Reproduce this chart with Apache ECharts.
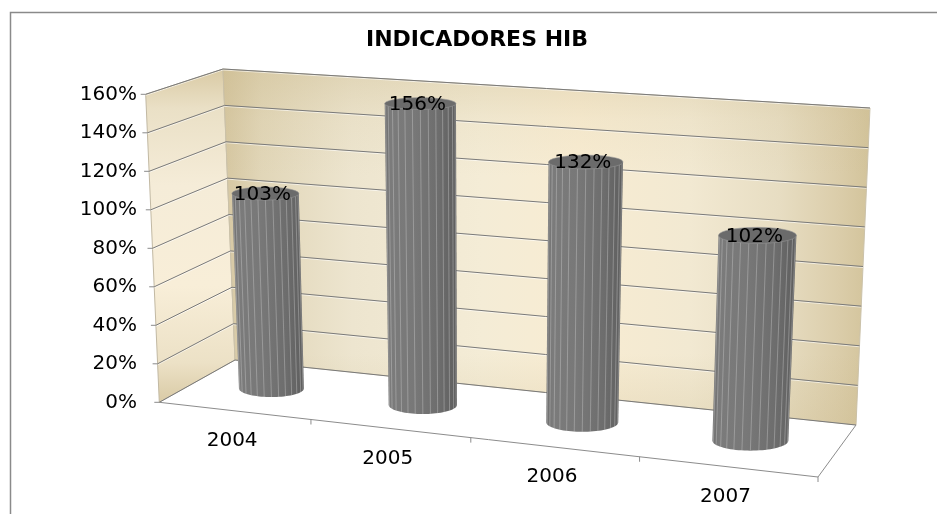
<!DOCTYPE html>
<html>
<head>
<meta charset="utf-8">
<script src="https://cdn.jsdelivr.net/npm/echarts@6/dist/echarts.min.js"></script>
<style>
html,body{margin:0;padding:0;background:#ffffff;}
#c{width:937px;height:514px;}
</style>
</head>
<body>
<div id="c"></div>
<script>
// ---- data ----
const categories = ['2004', '2005', '2006', '2007'];
const values = [103, 156, 132, 102];
const yTicks = [0, 20, 40, 60, 80, 100, 120, 140, 160];
const titleText = 'INDICADORES HIB';

// ---- layout of the pseudo-3D box (screen px), corners: front-left, front-right, back-right, back-left ----
const FLOOR = [[159.3, 402.3], [818, 477], [856, 425], [235, 360]];
const TOP = [[145.7, 94.3], [833, 144], [870, 108], [223, 69]];
const BAR_FRACTION = 0.44;   // cylinder diameter / category width
const BAR_DEPTH = 0.5;       // depth position of cylinders (0 front, 1 back)
const BAR_DIAM_D = 0.4;      // cylinder diameter in depth units
const FONT = '"DejaVu Sans", sans-serif';

function homog(q) {
  const x0 = q[0][0], y0 = q[0][1], x1 = q[1][0], y1 = q[1][1];
  const x2 = q[2][0], y2 = q[2][1], x3 = q[3][0], y3 = q[3][1];
  const dx1 = x1 - x2, dx2 = x3 - x2, dx3 = x0 - x1 + x2 - x3;
  const dy1 = y1 - y2, dy2 = y3 - y2, dy3 = y0 - y1 + y2 - y3;
  const den = dx1 * dy2 - dy1 * dx2;
  const g = (dx3 * dy2 - dy3 * dx2) / den, h = (dx1 * dy3 - dy1 * dx3) / den;
  const a = x1 - x0 + g * x1, b = x3 - x0 + h * x3, c = x0;
  const d = y1 - y0 + g * y1, e = y3 - y0 + h * y3, f = y0;
  return function (u, v) {
    const w = g * u + h * v + 1;
    return [(a * u + b * v + c) / w, (d * u + e * v + f) / w];
  };
}
const Hf = homog(FLOOR);
const VEC = TOP.map(function (p, k) { return [p[0] - FLOOR[k][0], p[1] - FLOOR[k][1]]; });
function vert(u, d) {
  const r = [];
  for (let j = 0; j < 2; j++) {
    const f = VEC[0][j] + (VEC[1][j] - VEC[0][j]) * u;
    const b = VEC[3][j] + (VEC[2][j] - VEC[3][j]) * u;
    r.push(f + (b - f) * d);
  }
  return r;
}
function proj(u, t, d) {
  const p = Hf(u, d), v = vert(u, d);
  return [p[0] + v[0] * t, p[1] + v[1] * t];
}
function uOf(cs, x) { return (x - cs.x) / cs.width; }
function tOf(cs, y) { return (cs.y + cs.height - y) / cs.height; }

const LG = echarts.graphic.LinearGradient;

function renderWalls(params, api) {
  const cs = params.coordSys;
  const t0 = tOf(cs, api.coord([0, yTicks[0]])[1]);
  const t1 = tOf(cs, api.coord([0, yTicks[yTicks.length - 1]])[1]);
  const side = [proj(0, t0, 0), proj(0, t1, 0), proj(0, t1, 1), proj(0, t0, 1)];
  const back = [proj(0, t0, 1), proj(0, t1, 1), proj(1, t1, 1), proj(1, t0, 1)];
  return {
    type: 'group',
    children: [
      { type: 'polygon', shape: { points: side },
        style: { fill: new LG(0, 0, 0, 1, [
          { offset: 0, color: '#d9caa4' }, { offset: 0.12, color: '#eae0c6' },
          { offset: 0.35, color: '#f5ecd8' }, { offset: 0.65, color: '#f8eed8' },
          { offset: 0.88, color: '#ece1c6' }, { offset: 1, color: '#d9caa5' }]),
          stroke: '#c2b9a3', lineWidth: 1 } },
      { type: 'polygon', shape: { points: back },
        style: { fill: new LG(0, 0, 1, 0, [
          { offset: 0, color: '#d5c6a0' }, { offset: 0.06, color: '#e1d6b8' },
          { offset: 0.2, color: '#ede5cf' }, { offset: 0.4, color: '#f4ecd6' },
          { offset: 0.55, color: '#f8ecd2' }, { offset: 0.72, color: '#f2e9d2' },
          { offset: 0.86, color: '#e7ddc2' }, { offset: 0.95, color: '#dbcdaa' },
          { offset: 1, color: '#d2c39a' }]),
          stroke: '#cbc2aa', lineWidth: 1 } },
      { type: 'polygon', shape: { points: back },
        style: { fill: new LG(0, 0, 0, 1, [
          { offset: 0, color: 'rgba(200,182,135,0.35)' }, { offset: 0.14, color: 'rgba(200,182,135,0.1)' },
          { offset: 0.3, color: 'rgba(200,182,135,0)' }, { offset: 0.8, color: 'rgba(200,182,135,0)' },
          { offset: 1, color: 'rgba(200,182,135,0.25)' }]) } }
    ]
  };
}

function renderGrid(params, api) {
  const cs = params.coordSys;
  const t = tOf(cs, api.coord([0, api.value(1)])[1]);
  const a = proj(0, t, 0), b = proj(0, t, 1), c = proj(1, t, 1);
  return {
    type: 'group',
    children: [
      { type: 'polyline', shape: { points: [[a[0], a[1] + 1], [b[0], b[1] + 1], [c[0], c[1] + 1]] },
        style: { stroke: 'rgba(255,255,255,0.6)', lineWidth: 1, fill: null } },
      { type: 'polyline', shape: { points: [a, b, c] },
        style: { stroke: '#7a7a7a', lineWidth: 1, fill: null } },
      { type: 'line', shape: { x1: a[0] - 5, y1: a[1], x2: a[0], y2: a[1] },
        style: { stroke: '#8a8a8a', lineWidth: 1 } }
    ]
  };
}

function renderFloor(params, api) {
  const cs = params.coordSys;
  const i = params.dataIndex;
  const c = api.coord([api.value(0), 0]);
  const half = api.size([1, 0])[0] / 2 / cs.width;
  const uc = uOf(cs, c[0]);
  const ch = [];
  if (i === 0) {
    const p0 = proj(0, 0, 0), p1 = proj(1, 0, 0), p2 = proj(1, 0, 1);
    ch.push({ type: 'polyline', shape: { points: [p0, p1, p2] },
      style: { stroke: '#8c8c8c', lineWidth: 1, fill: null } });
  }
  const us = [];
  if (i > 0) us.push(uc - half);
  if (i === categories.length - 1) us.push(uc + half);
  us.forEach(function (u) {
    const p = proj(u, 0, 0);
    ch.push({ type: 'line', shape: { x1: p[0], y1: p[1], x2: p[0], y2: p[1] + 5 },
      style: { stroke: '#8c8c8c', lineWidth: 1 } });
  });
  const lp = proj(uc, 0, 0);
  ch.push({ type: 'text', style: { text: categories[i], x: lp[0] - 2, y: lp[1] + 30,
    align: 'center', verticalAlign: 'middle', font: '20px ' + FONT, fill: '#000000' } });
  return { type: 'group', children: ch };
}

function ellipsePts(cx, cy, rx, ry, a0, a1, n) {
  const pts = [];
  for (let k = 0; k <= n; k++) {
    const th = a0 + (a1 - a0) * k / n;
    pts.push([cx - rx * Math.cos(th), cy + ry * Math.sin(th)]);
  }
  return pts;
}

function renderBar(params, api) {
  const cs = params.coordSys;
  const i = api.value(0), v = api.value(1);
  const topPt = api.coord([i, v]), basePt = api.coord([i, 0]);
  const du = api.size([1, 0])[0] / cs.width * BAR_FRACTION / 2;
  const uc = uOf(cs, topPt[0]);
  const tt = tOf(cs, topPt[1]), tb = tOf(cs, basePt[1]);
  const dd = BAR_DIAM_D / 2;
  function ell(t) {
    const L = proj(uc - du, t, BAR_DEPTH), R = proj(uc + du, t, BAR_DEPTH);
    const C = proj(uc, t, BAR_DEPTH);
    const F = proj(uc, t, BAR_DEPTH - dd), B = proj(uc, t, BAR_DEPTH + dd);
    return { cx: (L[0] + R[0]) / 2, cy: C[1], rx: (R[0] - L[0]) / 2, ry: Math.abs(F[1] - B[1]) / 2 };
  }
  const et = ell(tt), eb = ell(tb);
  const N = 40;
  const body = [[et.cx - et.rx, et.cy]].concat(ellipsePts(eb.cx, eb.cy, eb.rx, eb.ry, 0, Math.PI, N));
  body.push([et.cx + et.rx, et.cy]);
  const ch = [
    { type: 'polygon', shape: { points: body },
      style: { fill: new LG(0, 0, 1, 0, [
        { offset: 0, color: '#6e6e6e' }, { offset: 0.08, color: '#7b7b7b' },
        { offset: 0.4, color: '#787878' }, { offset: 0.75, color: '#6d6d6d' },
        { offset: 1, color: '#5e5e5e' }]) } }
  ];
  const F = 14;
  for (let k = 1; k < F; k++) {
    const th = Math.PI * k / F;
    ch.push({ type: 'line', shape: {
      x1: et.cx - et.rx * Math.cos(th), y1: et.cy + et.ry * Math.sin(th),
      x2: eb.cx - eb.rx * Math.cos(th), y2: eb.cy + eb.ry * Math.sin(th) },
      style: { stroke: 'rgba(215,215,215,0.45)', lineWidth: 0.8 } });
  }
  ch.push({ type: 'polygon', shape: { points: ellipsePts(et.cx, et.cy, et.rx, et.ry, 0, 2 * Math.PI, N) },
    style: { fill: '#6b6b6b', stroke: 'rgba(150,150,150,0.7)', lineWidth: 0.8 } });
  ch.push({ type: 'text', style: { text: v + '%', x: et.cx - 3, y: et.cy + 1,
    align: 'center', verticalAlign: 'middle', font: '20px ' + FONT, fill: '#000000' } });
  return { type: 'group', children: ch };
}

const chart = echarts.init(document.getElementById('c'));
chart.setOption({
  animation: false,
  backgroundColor: '#ffffff',
  title: {
    text: titleText, left: 366, top: 29, padding: 0,
    textStyle: { fontFamily: FONT, fontWeight: 'bold', fontSize: 22, color: '#000000' }
  },
  graphic: [{
    type: 'rect', silent: true, z: -10,
    shape: { x: 10.5, y: 12.5, width: 1000, height: 1000 },
    style: { fill: 'none', stroke: '#8a8a8a', lineWidth: 1.5 }
  }],
  grid: { left: 146, top: 94.3, width: 672, height: 308 },
  xAxis: { type: 'category', data: categories, show: false },
  yAxis: {
    type: 'value', min: yTicks[0], max: yTicks[yTicks.length - 1], interval: yTicks[1] - yTicks[0],
    axisLine: { show: false }, axisTick: { show: false }, splitLine: { show: false },
    axisLabel: { formatter: function (v) { return v + '%'; }, margin: 9,
      fontFamily: FONT, fontSize: 20, color: '#000000' }
  },
  series: [
    { type: 'custom', name: 'walls', z: 1, silent: true, renderItem: renderWalls,
      data: [[0, yTicks[0]]], encode: { x: 0, y: 1 } },
    { type: 'custom', name: 'grid', z: 2, silent: true, renderItem: renderGrid,
      data: yTicks.map(function (v) { return [0, v]; }), encode: { x: 0, y: 1 } },
    { type: 'custom', name: 'floor', z: 2, silent: true, renderItem: renderFloor,
      data: categories.map(function (c, i) { return [i, 0]; }), encode: { x: 0, y: 1 } },
    { type: 'custom', name: 'INDICADORES HIB', z: 3, renderItem: renderBar,
      data: values.map(function (v, i) { return [i, v]; }), encode: { x: 0, y: 1 } }
  ]
});
</script>
</body>
</html>
